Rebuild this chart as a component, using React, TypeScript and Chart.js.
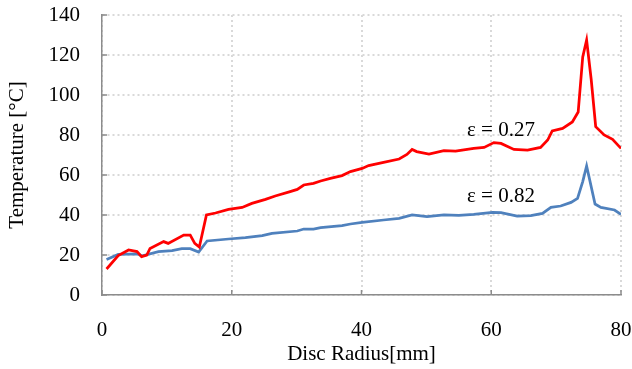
import React, { useEffect, useRef } from "react";
import { Chart, registerables } from "chart.js";

Chart.register(...registerables);

const redX = [0.7, 2.5, 4.1, 5.4, 6.1, 6.9, 7.4, 9.5, 10.2, 12.6, 13.6, 14.3, 15.0, 16.1, 17.5, 19.5, 21.6, 23.1, 25.2, 26.7, 29.0, 30.1, 31.1, 32.6, 33.7, 35.2, 37.0, 38.3, 40.1, 41.1, 43.4, 45.8, 47.0, 47.8, 48.5, 50.4, 52.7, 54.5, 57.3, 58.9, 60.4, 61.5, 63.5, 65.6, 67.6, 68.7, 69.4, 71.0, 72.5, 73.4, 74.1, 74.7, 75.4, 76.1, 77.4, 78.7, 80.0];
const redY = [13, 19.7, 22.5, 21.7, 19.2, 20, 23.3, 26.7, 25.8, 30, 30, 25.8, 24, 40, 41, 42.8, 43.8, 45.8, 47.8, 49.5, 51.7, 52.8, 55, 55.8, 57, 58.3, 59.7, 61.7, 63.3, 64.7, 66.3, 68, 70.3, 72.8, 71.7, 70.5, 72.2, 72, 73.3, 73.8, 76.2, 75.8, 72.8, 72.5, 73.8, 77.5, 82, 83.3, 86.5, 91.5, 119, 127.5, 108, 84.2, 80, 77.8, 73.3];

const blueX = [0.7, 2.5, 5.6, 6.1, 8.7, 10.8, 12.3, 13.6, 14.9, 16.2, 19.5, 22.1, 24.7, 26.2, 30.1, 31.1, 32.6, 33.7, 37.0, 38.3, 40.1, 43.4, 45.8, 47.8, 50.1, 52.7, 55.0, 57.3, 60.2, 61.5, 64.0, 66.1, 67.9, 69.2, 70.7, 72.3, 73.3, 74.1, 74.7, 76.0, 76.9, 79.0, 80.0];
const blueY = [17.8, 20.3, 20.5, 19.5, 21.7, 22.2, 23.2, 23.2, 21.5, 27, 28, 28.7, 29.7, 30.8, 32, 33, 33, 33.7, 34.7, 35.5, 36.3, 37.5, 38.3, 40, 39.2, 40, 39.8, 40.3, 41.3, 41.2, 39.5, 39.7, 40.8, 43.8, 44.5, 46.3, 48.3, 56.7, 64.5, 45.5, 43.8, 42.5, 40.3];

const xTicks = [0, 20, 40, 60, 80];
const yTicks = [0, 20, 40, 60, 80, 100, 120, 140];
const labels = [
  { text: "ε = 0.27", x: 61.5, y: 82.5 },
  { text: "ε = 0.82", x: 61.5, y: 49.5 },
];

const FONT = "'Liberation Serif', 'Times New Roman', serif";
const FS = 21;

export default function App() {
  const ref = useRef<HTMLCanvasElement>(null);
  useEffect(() => {
    const canvas = ref.current!;
    const innerTicks = {
      id: "innerTicks",
      afterDatasetsDraw(chart: any) {
        const ctx = chart.ctx;
        const xs = chart.scales.x;
        const ys = chart.scales.y;
        const a = chart.chartArea;
        ctx.save();
        ctx.strokeStyle = "#8c8c8c";
        ctx.lineWidth = 1.5;
        ctx.beginPath();
        xTicks.forEach((v) => {
          const px = xs.getPixelForValue(v);
          ctx.moveTo(px, a.bottom);
          ctx.lineTo(px, a.bottom - 5);
        });
        yTicks.forEach((v) => {
          const py = ys.getPixelForValue(v);
          ctx.moveTo(a.left, py);
          ctx.lineTo(a.left + 5, py);
        });
        ctx.stroke();
        ctx.fillStyle = "#000";
        ctx.font = FS + "px " + FONT;
        ctx.textAlign = "center";
        ctx.textBaseline = "middle";
        labels.forEach((l) => {
          ctx.fillText(l.text, xs.getPixelForValue(l.x), ys.getPixelForValue(l.y));
        });
        ctx.restore();
      },
    };
    const chart = new Chart(canvas, {
      type: "scatter",
      data: {
        datasets: [
          {
            label: "ε = 0.27",
            data: redX.map((x, i) => ({ x, y: redY[i] })),
            borderColor: "#ff0000",
            backgroundColor: "#ff0000",
            borderWidth: 2.75,
            showLine: true,
            pointRadius: 0,
            tension: 0,
          },
          {
            label: "ε = 0.82",
            data: blueX.map((x, i) => ({ x, y: blueY[i] })),
            borderColor: "#4f81bd",
            backgroundColor: "#4f81bd",
            borderWidth: 2.75,
            showLine: true,
            pointRadius: 0,
            tension: 0,
          },
        ],
      },
      options: {
        responsive: false,
        animation: false,
        layout: { padding: { top: 15, right: 11, left: 0, bottom: 0 } },
        plugins: { legend: { display: false }, tooltip: { enabled: false } },
        scales: {
          x: {
            type: "linear",
            min: 0,
            max: 80,
            afterBuildTicks: (s: any) => {
              s.ticks = xTicks.map((v) => ({ value: v }));
            },
            afterFit: (s: any) => {
              s.height = 74;
              s.paddingLeft = 0;
              s.paddingRight = 0;
            },
            grid: {
              color: "#d9d9d9",
              lineWidth: 2,
              drawTicks: false,
            },
            border: { display: true, color: "#8c8c8c", width: 1.5, dash: [2, 3] },
            ticks: {
              color: "#000",
              padding: 23,
              font: { family: FONT, size: FS },
              maxRotation: 0,
            },
            title: {
              display: true,
              text: "Disc Radius[mm]",
              color: "#000",
              font: { family: FONT, size: FS },
              padding: { top: 0, bottom: 2 },
            },
          },
          y: {
            type: "linear",
            min: 0,
            max: 140,
            afterBuildTicks: (s: any) => {
              s.ticks = yTicks.map((v) => ({ value: v }));
            },
            afterFit: (s: any) => {
              s.width = 102;
              s.paddingTop = 0;
              s.paddingBottom = 0;
            },
            grid: {
              color: "#d9d9d9",
              lineWidth: 2,
              drawTicks: false,
            },
            border: { display: true, color: "#8c8c8c", width: 1.5, dash: [2, 3] },
            ticks: {
              color: "#000",
              padding: 22,
              font: { family: FONT, size: FS },
            },
            title: {
              display: true,
              text: "Temperature [°C]",
              color: "#000",
              font: { family: FONT, size: FS },
              padding: { top: 5, bottom: 0 },
            },
          },
        },
      },
      plugins: [innerTicks],
    } as any);
    return () => chart.destroy();
  }, []);
  return (
    <div style={{ position: "fixed", left: 0, top: 0, width: 632, height: 369, background: "#fff" }}>
      <canvas ref={ref} width={632} height={369} style={{ width: 632, height: 369, display: "block" }} />
    </div>
  );
}
